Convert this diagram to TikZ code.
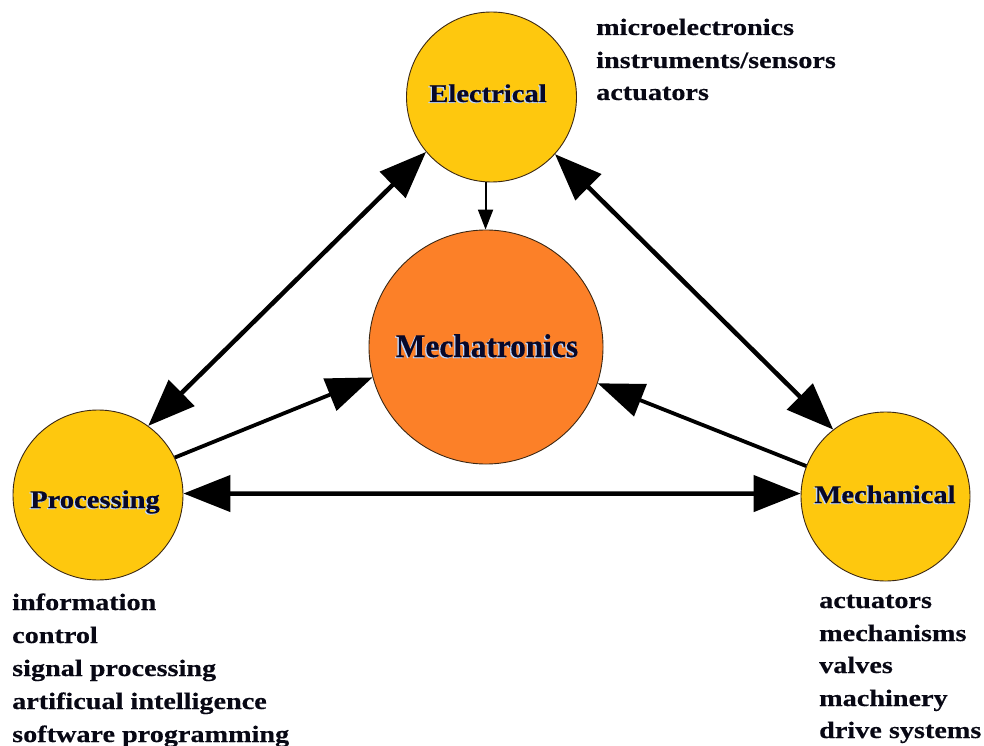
\documentclass[tikz,border=0pt]{standalone}
\usepackage{fontspec}
\setmainfont{Liberation Serif}
\newfontfamily\lstfont{Liberation Serif}[FakeStretch=1.2,FakeBold=0.4]
\newfontfamily\labfont{Liberation Serif}[FakeStretch=1.12,FakeBold=0.4]
\newfontfamily\mecfont{Liberation Serif}[FakeStretch=0.95,FakeBold=0.4]
\usetikzlibrary{arrows.meta}
\definecolor{circY}{RGB}{254,200,14}
\definecolor{circO}{RGB}{252,128,40}
\definecolor{navy}{RGB}{8,8,40}
\definecolor{shade}{RGB}{190,215,255}
\definecolor{txt}{RGB}{8,8,20}
\definecolor{rim}{RGB}{60,40,20}
\newcommand\shtext[1]{\makebox[0pt][l]{\hspace{-1.3pt}\raisebox{-1pt}{\textcolor{shade}{#1}}}\textcolor{navy}{#1}}
\begin{document}
\begin{tikzpicture}[x=1pt,y=-1pt,
  bubble/.style={circle,draw=rim,line width=0.9pt,inner sep=0pt},
  lab/.style={anchor=base,inner sep=0pt,font=\labfont\bfseries\fontsize{25.5}{30}\selectfont},
  item/.style={anchor=base west,inner sep=0pt,text=txt,font=\lstfont\bfseries\fontsize{23.5}{28}\selectfont},
  big/.style={line width=4.5pt,{Triangle[length=47pt,width=36pt]}-{Triangle[length=47pt,width=36pt]}},
  mid/.style={line width=3.8pt,-{Triangle[length=46pt,width=34pt]}},
  small/.style={line width=2pt,-{Triangle[length=20pt,width=15pt]}}]
\fill[white] (0,0) rectangle (984,746);
\useasboundingbox (0,0) rectangle (984,746);

\node[bubble,fill=circY,minimum size=170pt] (elec) at (491.5,97) {};
\node[bubble,fill=circO,minimum size=234pt] (mecha) at (486,347) {};
\node[bubble,fill=circY,minimum size=170pt] (proc) at (98,495) {};
\node[bubble,fill=circY,minimum size=169pt] (mech) at (885.5,496.5) {};

\node[lab] (elecL) at (488,102) {\shtext{Electrical}};
\node[lab,font=\mecfont\bfseries\fontsize{33}{38}\selectfont] (mechaL) at (487,357) {\shtext{Mechatronics}};
\node[lab] (procL) at (95,508) {\shtext{Processing}};
\node[lab] (mechL) at (885,503) {\shtext{Mechanical}};

\draw[big] (proc.54) -- (elec.220);
\draw[big] (elec.318.6) -- (mech.128);
\draw[big] (proc.1) -- (mech.178);
\draw[mid] (proc.26) -- (mecha.195);
\draw[mid] (mech.159) -- (mecha.342);
\coordinate (etop) at (elec.266);
\draw[small] (etop) -- (etop |- mecha.north);

\node[item] (e1) at (596,35) {microelectronics};
\node[item] (e2) at (596,68) {instruments/sensors};
\node[item] (e3) at (596,100) {actuators};

\node[item] (p1) at (12,610) {information};
\node[item] (p2) at (12,643) {control};
\node[item] (p3) at (12,676) {signal processing};
\node[item] (p4) at (12,709) {artificual intelligence};
\node[item] (p5) at (12,742) {software programming};

\node[item] (m1) at (819,608) {actuators};
\node[item] (m2) at (819,641) {mechanisms};
\node[item] (m3) at (819,673) {valves};
\node[item] (m4) at (819,706) {machinery};
\node[item] (m5) at (819,738) {drive systems};
\end{tikzpicture}
\end{document}
